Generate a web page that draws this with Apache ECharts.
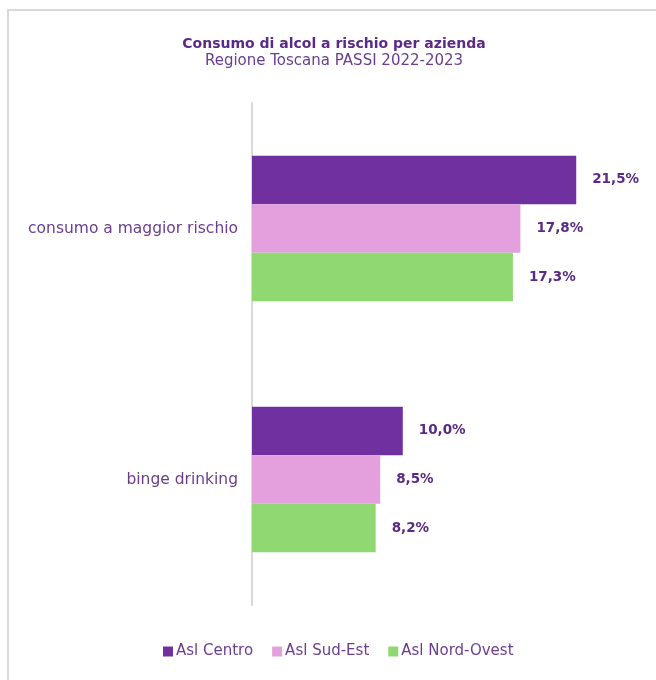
<!DOCTYPE html>
<html>
<head>
<meta charset="utf-8">
<script src="https://cdn.jsdelivr.net/npm/echarts@6/dist/echarts.min.js"></script>
<style>html,body{margin:0;padding:0;background:#fff;}#c{width:656px;height:680px;}</style>
</head>
<body>
<div id="c"></div>
<script>
var categories = ['consumo a maggior rischio', 'binge drinking'];
var seriesNames = ['Asl Centro', 'Asl Sud-Est', 'Asl Nord-Ovest'];
var aslCentro = [21.5, 10.0];
var aslSudEst = [17.8, 8.5];
var aslNordOvest = [17.3, 8.2];
var colors = ['#7030A0', '#E4A0DC', '#8FD872'];

var font = 'DejaVu Sans';
var chart = echarts.init(document.getElementById('c'), null, {renderer: 'canvas'});
function fmt(p){ return p.value.toFixed(1).replace('.', ',') + '%'; }
var dataSets = [aslCentro, aslSudEst, aslNordOvest];
var series = seriesNames.map(function(n, i){
  return {
    name: n, type: 'bar', data: dataSets[i],
    itemStyle: {color: colors[i]},
    barGap: '0%', barCategoryGap: '42%',
    label: {show: true, position: 'right', distance: 16, formatter: fmt,
      color: '#5B2A86', fontWeight: 'bold', fontSize: 13.5, fontFamily: font}
  };
});
chart.setOption({
  animation: false,
  color: colors,
  graphic: [{type: 'rect', shape: {x: 8, y: 10, width: 700, height: 700},
    style: {fill: 'none', stroke: '#D9D9D9', lineWidth: 2}, silent: true}],
  title: {
    text: 'Consumo di alcol a rischio per azienda',
    subtext: 'Regione Toscana PASSI 2022-2023',
    left: 329, textAlign: 'center', top: 32, itemGap: 3,
    textStyle: {color: '#5B2A86', fontSize: 14, fontWeight: 'bold', fontFamily: font},
    subtextStyle: {color: '#6A3D8F', fontSize: 15, fontFamily: font}
  },
  legend: {
    bottom: 16, left: 158, itemWidth: 10, itemHeight: 10, itemGap: 19,
    icon: 'rect',
    textStyle: {color: '#6A3D8F', fontSize: 15, fontFamily: font, padding: [0,0,0,-2]},
    data: seriesNames
  },
  grid: {left: 252, right: 27, top: 103, bottom: 75, containLabel: false},
  xAxis: {type: 'value', min: 0, max: 25, show: false},
  yAxis: {
    type: 'category', data: categories, inverse: true,
    axisLine: {show: true, lineStyle: {color: '#D9D9D9', width: 2}},
    axisTick: {show: false},
    axisLabel: {color: '#6A3D8F', fontSize: 15.5, fontFamily: font, margin: 14}
  },
  series: series
});
</script>
</body>
</html>
